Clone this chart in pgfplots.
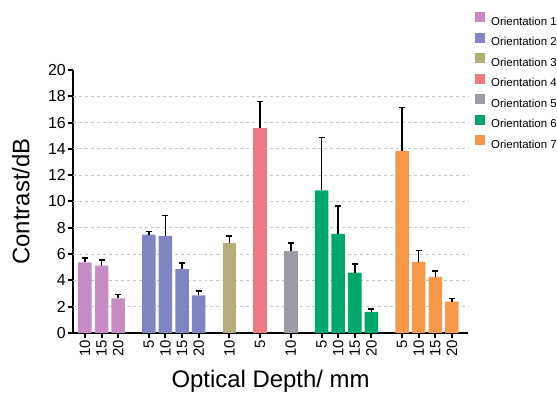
\documentclass[border=0pt]{standalone}
\usepackage{pgfplots}
\pgfplotsset{compat=1.18}
\usepackage{fontspec}
\setmainfont{Liberation Sans}
\definecolor{c1}{RGB}{200,140,196}
\definecolor{c2}{RGB}{127,132,194}
\definecolor{c3}{RGB}{181,173,122}
\definecolor{c4}{RGB}{240,122,132}
\definecolor{c5}{RGB}{154,155,165}
\definecolor{c6}{RGB}{0,168,107}
\definecolor{c7}{RGB}{247,151,74}
\begin{document}
\begin{tikzpicture}
\path[use as bounding box] (-73bp,-60bp) rectangle (484bp,333bp);
\begin{axis}[
  scale only axis, width=395bp, height=263bp,
  at={(0,0)}, anchor=south west,
  axis lines=left,
  axis line style={line width=2.5bp, -},
  xmin=-0.72, xmax=23.07, ymin=0, ymax=20,
  ybar, bar width=13.5bp,
  ytick={0,2,...,20},
  xtick={0,1,2,3.85,4.85,5.85,6.85,8.7,10.55,12.4,14.25,15.25,16.25,17.25,19.1,20.1,21.1,22.1},
  xticklabels={10,15,20,5,10,15,20,10,5,10,5,10,15,20,5,10,15,20},
  x tick label style={rotate=90, anchor=east, font=\fontsize{15}{15}\selectfont, inner sep=2bp},
  y tick label style={font=\fontsize{16}{16}\selectfont, inner sep=2bp},
  /pgf/number format/assume math mode=true,
  tick align=outside,
  tick style={black, line width=2bp},
  major tick length=5bp,
  extra y ticks={2,4,...,18},
  extra y tick labels={},
  extra y tick style={major tick length=0pt, grid=major, major grid style={dashed, gray!45, line width=0.8bp}},
  xlabel={Optical Depth/ mm},
  ylabel={Contrast/dB},
  xlabel style={font=\fontsize{24}{24}\selectfont, at={(axis description cs:0.5,0)}, anchor=north, inner sep=0pt, yshift=-37bp},
  ylabel style={font=\fontsize{24}{24}\selectfont},
  ylabel shift=8bp,
  legend style={at={(axis description cs:1.010,1.228)}, anchor=north west, draw=none, fill=none,
    font=\fontsize{11.5}{11.5}\selectfont, row sep=7.5bp, column sep=6bp,
    nodes={inner sep=0pt, text height=8bp, text depth=0bp}},
  legend cell align=left,
  legend image code/.code={\fill[#1] (0bp,-1bp) rectangle (10bp,9bp);},
  error bars/y dir=plus, error bars/y explicit,
  error bars/error bar style={black, line width=1.5bp},
  error bars/error mark options={black, line width=1.5bp, mark size=3bp, rotate=90},
]
\addplot[fill=c1, draw=none, bar shift=0pt] table[x=x, y=y, y error=e] {
x y e
0 5.38 0.33
1 5.13 0.41
2 2.64 0.28
};
\addlegendentry{Orientation 1}
\addplot[fill=c2, draw=none, bar shift=0pt] table[x=x, y=y, y error=e] {
x y e
3.85 7.49 0.23
4.85 7.39 1.55
5.85 4.85 0.46
6.85 2.87 0.31
};
\addlegendentry{Orientation 2}
\addplot[fill=c3, draw=none, bar shift=0pt] table[x=x, y=y, y error=e] {
x y e
8.7 6.83 0.56
};
\addlegendentry{Orientation 3}
\addplot[fill=c4, draw=none, bar shift=0pt] table[x=x, y=y, y error=e] {
x y e
10.55 15.59 2.03
};
\addlegendentry{Orientation 4}
\addplot[fill=c5, draw=none, bar shift=0pt] table[x=x, y=y, y error=e] {
x y e
12.4 6.22 0.61
};
\addlegendentry{Orientation 5}
\addplot[fill=c6, draw=none, bar shift=0pt] table[x=x, y=y, y error=e] {
x y e
14.25 10.84 4.01
15.25 7.54 2.11
16.25 4.60 0.63
17.25 1.60 0.23
};
\addlegendentry{Orientation 6}
\addplot[fill=c7, draw=none, bar shift=0pt] table[x=x, y=y, y error=e] {
x y e
19.1 13.84 3.30
20.1 5.41 0.86
21.1 4.27 0.45
22.1 2.39 0.25
};
\addlegendentry{Orientation 7}
\end{axis}
\end{tikzpicture}
\end{document}
